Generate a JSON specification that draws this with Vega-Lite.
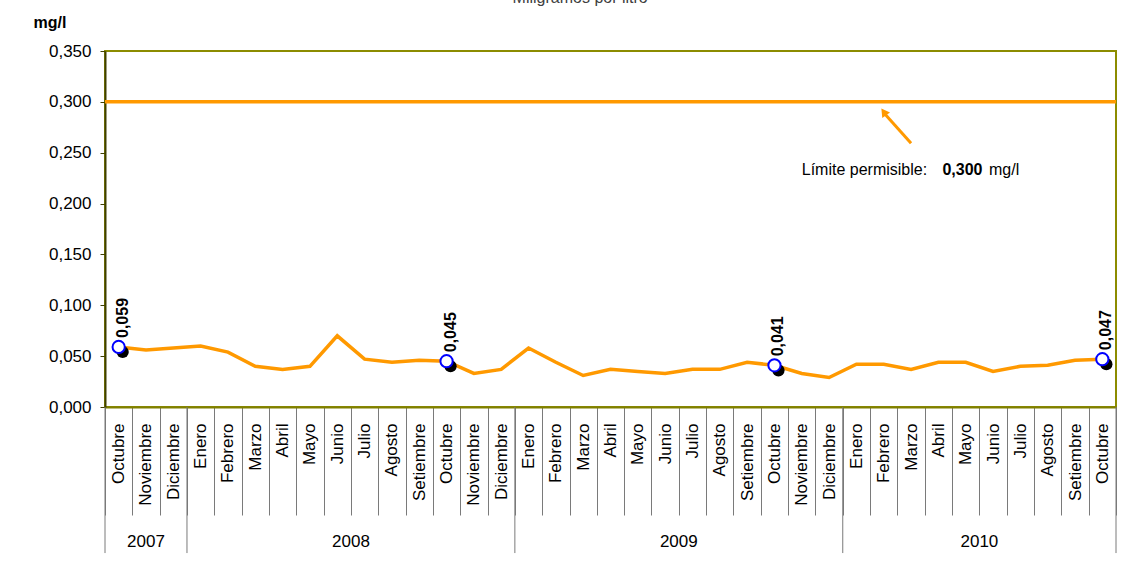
{
  "$schema": "https://vega.github.io/schema/vega-lite/v6.json",
  "width": 1011,
  "height": 356,
  "autosize": {"type": "none"},
  "padding": {"left": 105, "top": 51, "right": 25, "bottom": 162},
  "background": "white",
  "config": {
    "font": "Liberation Sans",
    "view": {"stroke": "#8c8c00", "strokeWidth": 2},
    "axis": {"grid": false}
  },
  "datasets": {
    "main": [
      {"t": "2007-10", "v": 0.059, "m": "Octubre"},
      {"t": "2007-11", "v": 0.056, "m": "Noviembre"},
      {"t": "2007-12", "v": 0.058, "m": "Diciembre"},
      {"t": "2008-01", "v": 0.060, "m": "Enero"},
      {"t": "2008-02", "v": 0.054, "m": "Febrero"},
      {"t": "2008-03", "v": 0.040, "m": "Marzo"},
      {"t": "2008-04", "v": 0.037, "m": "Abril"},
      {"t": "2008-05", "v": 0.040, "m": "Mayo"},
      {"t": "2008-06", "v": 0.070, "m": "Junio"},
      {"t": "2008-07", "v": 0.047, "m": "Julio"},
      {"t": "2008-08", "v": 0.044, "m": "Agosto"},
      {"t": "2008-09", "v": 0.046, "m": "Setiembre"},
      {"t": "2008-10", "v": 0.045, "m": "Octubre"},
      {"t": "2008-11", "v": 0.033, "m": "Noviembre"},
      {"t": "2008-12", "v": 0.037, "m": "Diciembre"},
      {"t": "2009-01", "v": 0.058, "m": "Enero"},
      {"t": "2009-02", "v": 0.044, "m": "Febrero"},
      {"t": "2009-03", "v": 0.031, "m": "Marzo"},
      {"t": "2009-04", "v": 0.037, "m": "Abril"},
      {"t": "2009-05", "v": 0.035, "m": "Mayo"},
      {"t": "2009-06", "v": 0.033, "m": "Junio"},
      {"t": "2009-07", "v": 0.037, "m": "Julio"},
      {"t": "2009-08", "v": 0.037, "m": "Agosto"},
      {"t": "2009-09", "v": 0.044, "m": "Setiembre"},
      {"t": "2009-10", "v": 0.041, "m": "Octubre"},
      {"t": "2009-11", "v": 0.033, "m": "Noviembre"},
      {"t": "2009-12", "v": 0.029, "m": "Diciembre"},
      {"t": "2010-01", "v": 0.042, "m": "Enero"},
      {"t": "2010-02", "v": 0.042, "m": "Febrero"},
      {"t": "2010-03", "v": 0.037, "m": "Marzo"},
      {"t": "2010-04", "v": 0.044, "m": "Abril"},
      {"t": "2010-05", "v": 0.044, "m": "Mayo"},
      {"t": "2010-06", "v": 0.035, "m": "Junio"},
      {"t": "2010-07", "v": 0.040, "m": "Julio"},
      {"t": "2010-08", "v": 0.041, "m": "Agosto"},
      {"t": "2010-09", "v": 0.046, "m": "Setiembre"},
      {"t": "2010-10", "v": 0.047, "m": "Octubre"}
    ],
    "years": [
      {"year": "2007", "at": "2007-11"},
      {"year": "2008", "at": "2008-07"},
      {"year": "2009", "at": "2009-07"},
      {"year": "2010", "at": "2010-06"}
    ],
    "one": [{"a": 1}]
  },
  "layer": [
    {
      "data": {"name": "main"},
      "mark": {"type": "line", "color": "#FF9900", "strokeWidth": 3.5},
      "encoding": {
        "x": {
          "field": "t", "type": "ordinal", "sort": null,
          "scale": {"type": "band", "paddingInner": 0, "paddingOuter": 0},
          "axis": {
            "title": null,
            "labelAngle": -90,
            "labelAlign": "right",
            "labelBaseline": "middle",
            "labelFontSize": 17,
            "labelColor": "#000000",
            "labelExpr": "datum.value == null ? '' : ['Enero','Febrero','Marzo','Abril','Mayo','Junio','Julio','Agosto','Setiembre','Octubre','Noviembre','Diciembre'][toNumber(substring(datum.value,5,7))-1]",
            "tickBand": "extent",
            "tickSize": 108,
            "tickColor": "#7a7a7a",
            "tickWidth": 1,
            "labelPadding": -92,
            "labelOverlap": false,
            "labelBound": false,
            "labelFlush": false,
            "domainColor": "#808000",
            "domainWidth": 2
          }
        },
        "y": {
          "field": "v", "type": "quantitative",
          "scale": {"domain": [0, 0.35], "nice": false},
          "axis": {
            "values": [0, 0.05, 0.1, 0.15, 0.2, 0.25, 0.3, 0.35],
            "labelExpr": "replace(format(datum.value, '.3f'), '.', ',')",
            "labelFontSize": 17,
            "labelColor": "#000000",
            "tickSize": 5,
            "tickColor": "#404000",
            "labelPadding": 9,
            "domainColor": "#404000",
            "domainWidth": 2,
            "title": "mg/l",
            "titleAngle": 0,
            "titleAlign": "left",
            "titleBaseline": "middle",
            "titleX": -72,
            "titleY": -29,
            "titleFontSize": 16,
            "titleFontWeight": "bold",
            "titleColor": "#000000"
          }
        }
      }
    },
    {
      "data": {"name": "one"},
      "mark": {"type": "rule", "color": "#FF9900", "strokeWidth": 3.5},
      "encoding": {"y": {"datum": 0.3, "type": "quantitative"}}
    },
    {
      "data": {"name": "main"},
      "transform": [{"filter": "datum.m == 'Octubre'"}],
      "mark": {"type": "point", "filled": true, "color": "#000000", "size": 150, "opacity": 1, "xOffset": 4, "yOffset": 5},
      "encoding": {
        "x": {"field": "t", "type": "ordinal", "sort": null},
        "y": {"field": "v", "type": "quantitative"}
      }
    },
    {
      "data": {"name": "main"},
      "transform": [{"filter": "datum.m == 'Octubre'"}],
      "mark": {"type": "point", "filled": true, "fill": "#FFFFFF", "stroke": "#0000FF", "strokeWidth": 2, "size": 150, "opacity": 1},
      "encoding": {
        "x": {"field": "t", "type": "ordinal", "sort": null},
        "y": {"field": "v", "type": "quantitative"}
      }
    },
    {
      "data": {"name": "main"},
      "transform": [
        {"filter": "datum.m == 'Octubre'"},
        {"calculate": "replace(format(datum.v, '.3f'), '.', ',')", "as": "lbl"}
      ],
      "mark": {"type": "text", "angle": 270, "align": "left", "baseline": "middle", "dx": 9, "dy": 4, "fontSize": 16, "fontWeight": "bold", "color": "#000000"},
      "encoding": {
        "x": {"field": "t", "type": "ordinal", "sort": null},
        "y": {"field": "v", "type": "quantitative"},
        "text": {"field": "lbl"}
      }
    },
    {
      "data": {"name": "main"},
      "transform": [{"filter": "datum.m == 'Enero' || datum.t == '2007-10'"}],
      "mark": {"type": "rule", "color": "#7a7a7a", "strokeWidth": 1},
      "encoding": {
        "x": {"field": "t", "type": "ordinal", "sort": null, "bandPosition": 0},
        "y": {"datum": 0, "type": "quantitative"},
        "y2": {"datum": -0.1436}
      }
    },
    {
      "data": {"name": "main"},
      "transform": [{"filter": "datum.t == '2010-10'"}],
      "mark": {"type": "rule", "color": "#7a7a7a", "strokeWidth": 1},
      "encoding": {
        "x": {"field": "t", "type": "ordinal", "sort": null, "bandPosition": 1},
        "y": {"datum": 0, "type": "quantitative"},
        "y2": {"datum": -0.1436}
      }
    },
    {
      "data": {"name": "years"},
      "transform": [{"filter": "datum.year == '2007'"}],
      "mark": {"type": "text", "align": "center", "baseline": "middle", "fontSize": 17, "color": "#000000"},
      "encoding": {
        "x": {"field": "at", "type": "ordinal", "sort": null, "bandPosition": 0.5},
        "y": {"datum": -0.1327, "type": "quantitative"},
        "text": {"field": "year"}
      }
    },
    {
      "data": {"name": "years"},
      "transform": [{"filter": "datum.year != '2007'"}],
      "mark": {"type": "text", "align": "center", "baseline": "middle", "fontSize": 17, "color": "#000000"},
      "encoding": {
        "x": {"field": "at", "type": "ordinal", "sort": null, "bandPosition": 0},
        "y": {"datum": -0.1327, "type": "quantitative"},
        "text": {"field": "year"}
      }
    },
    {
      "data": {"name": "one"},
      "mark": {"type": "text", "text": "Miligramos por litro", "align": "center", "baseline": "alphabetic", "fontSize": 16, "color": "#404040", "dx": -3},
      "encoding": {
        "x": {"datum": "2009-03", "type": "ordinal"},
        "y": {"datum": 0.3975, "type": "quantitative"}
      }
    },
    {
      "data": {"name": "one"},
      "mark": {"type": "rule", "color": "#FF9900", "strokeWidth": 3},
      "encoding": {
        "x": {"datum": "2010-03", "type": "ordinal"},
        "x2": {"datum": "2010-02"},
        "y": {"datum": 0.2593, "type": "quantitative"},
        "y2": {"datum": 0.2894}
      }
    },
    {
      "data": {"name": "one"},
      "mark": {"type": "point", "shape": "triangle-up", "filled": true, "color": "#FF9900", "opacity": 1, "size": 90, "angle": 324.5},
      "encoding": {
        "x": {"datum": "2010-02", "type": "ordinal"},
        "y": {"datum": 0.2902, "type": "quantitative"}
      }
    },
    {
      "data": {"name": "one"},
      "mark": {"type": "text", "text": "Límite permisible:", "align": "left", "baseline": "middle", "fontSize": 16, "color": "#000000"},
      "encoding": {
        "x": {"datum": "2009-11", "type": "ordinal"},
        "y": {"datum": 0.233, "type": "quantitative"}
      }
    },
    {
      "data": {"name": "one"},
      "mark": {"type": "text", "text": "0,300", "align": "left", "baseline": "middle", "fontSize": 16, "fontWeight": "bold", "color": "#000000", "dx": 4},
      "encoding": {
        "x": {"datum": "2010-04", "type": "ordinal"},
        "y": {"datum": 0.233, "type": "quantitative"}
      }
    },
    {
      "data": {"name": "one"},
      "mark": {"type": "text", "text": "mg/l", "align": "left", "baseline": "middle", "fontSize": 16, "color": "#000000", "dx": -4},
      "encoding": {
        "x": {"datum": "2010-06", "type": "ordinal"},
        "y": {"datum": 0.233, "type": "quantitative"}
      }
    }
  ]
}
